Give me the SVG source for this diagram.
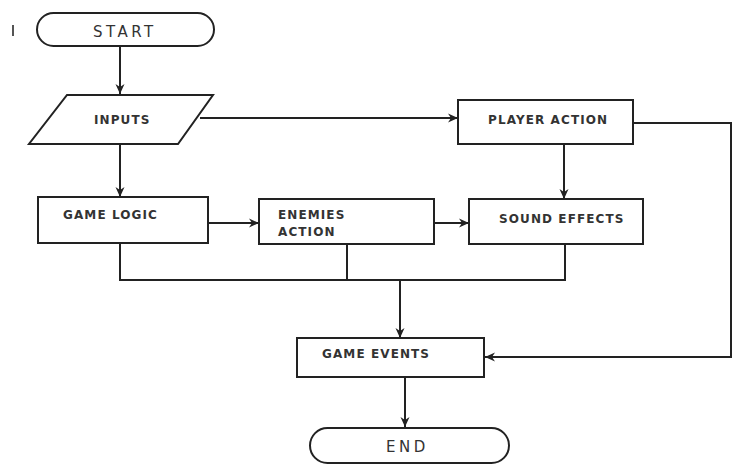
<svg xmlns="http://www.w3.org/2000/svg" width="732" height="465" viewBox="0 0 732 465">
<style>
.s{fill:#fff;stroke:#222;stroke-width:2}
.c{fill:none;stroke:#222;stroke-width:2}
.t{font-family:"DejaVu Sans","Liberation Sans",sans-serif;font-size:12px;font-weight:bold;fill:#333;letter-spacing:1.1px}
.r{font-family:"DejaVu Sans","Liberation Sans",sans-serif;font-size:15px;fill:#333;letter-spacing:3.5px}
</style>
<defs>
<marker id="a" viewBox="0 0 10 10" refX="10" refY="5" markerWidth="10" markerHeight="10" markerUnits="userSpaceOnUse" orient="auto">
<path d="M0,0.5 L10,5 L0,9.5 L3,5 Z" fill="#222"/>
</marker>
</defs>
<rect width="732" height="465" fill="#fff"/>
<line x1="13" y1="25" x2="13" y2="36" stroke="#555" stroke-width="2"/>
<g id="connectors">
<line class="c" x1="120" y1="46" x2="120" y2="94" marker-end="url(#a)"/>
<line class="c" x1="200" y1="118" x2="458" y2="118" marker-end="url(#a)"/>
<line class="c" x1="120" y1="145" x2="120" y2="197" marker-end="url(#a)"/>
<line class="c" x1="564" y1="144" x2="564" y2="199" marker-end="url(#a)"/>
<line class="c" x1="208" y1="223" x2="259" y2="223" marker-end="url(#a)"/>
<line class="c" x1="434" y1="223" x2="469" y2="223" marker-end="url(#a)"/>
<polyline class="c" points="120,243 120,280 565,280 565,244"/>
<line class="c" x1="347" y1="244" x2="347" y2="280"/>
<line class="c" x1="400" y1="280" x2="400" y2="338" marker-end="url(#a)"/>
<polyline class="c" points="633,123 731,123 731,357 485,357" marker-end="url(#a)"/>
<line class="c" x1="405" y1="377" x2="405" y2="427" marker-end="url(#a)"/>
</g>
<g id="start">
<rect class="s" x="37" y="13" width="177" height="33" rx="16.5"/>
<text class="r" x="93" y="37">START</text>
</g>
<g id="inputs">
<polygon class="s" points="67,95 213,95 178,144 29,144"/>
<text class="t" x="94" y="124">INPUTS</text>
</g>
<g id="player-action">
<rect class="s" x="458" y="100" width="175" height="44"/>
<text class="t" x="488" y="124">PLAYER ACTION</text>
</g>
<g id="game-logic">
<rect class="s" x="38" y="197" width="170" height="46"/>
<text class="t" x="63" y="219">GAME LOGIC</text>
</g>
<g id="enemies-action">
<rect class="s" x="259" y="199" width="175" height="45"/>
<text class="t" x="278" y="219">ENEMIES</text>
<text class="t" x="278" y="236">ACTION</text>
</g>
<g id="sound-effects">
<rect class="s" x="469" y="199" width="174" height="45"/>
<text class="t" x="499" y="223">SOUND EFFECTS</text>
</g>
<g id="game-events">
<rect class="s" x="297" y="338" width="187" height="39"/>
<text class="t" x="322" y="358">GAME EVENTS</text>
</g>
<g id="end">
<rect class="s" x="310" y="428" width="199" height="35" rx="17.5"/>
<text class="r" x="386" y="452">END</text>
</g>
</svg>
